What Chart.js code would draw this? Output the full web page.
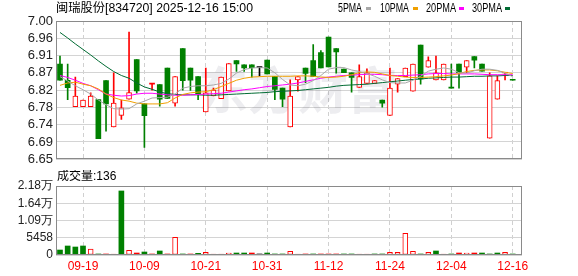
<!DOCTYPE html>
<html>
<head>
<meta charset="utf-8">
<script src="https://cdn.jsdelivr.net/npm/chart.js@4.4.1/dist/chart.umd.min.js"></script>
<style>
  html, body { margin: 0; padding: 0; background: #fff; }
  #wrap { position: relative; width: 578px; height: 276px; }
  #kline { position: absolute; left: 0; top: 0; }
  #vol { position: absolute; left: 0; top: 170px; }
</style>
</head>
<body>
<div id="wrap">
  <canvas id="kline" width="578" height="170"></canvas>
  <canvas id="vol" width="578" height="106"></canvas>
</div>
<script>
const title = '闽瑞股份[834720] 2025-12-16 15:00';
const volTitle = '成交量:136';

const dates = [
  '09-16','09-17','09-18','09-19','09-22','09-23','09-24','09-25','09-26','09-29','09-30',
  '10-09','10-10','10-13','10-14','10-15','10-16','10-17','10-20','10-21','10-22','10-23','10-24',
  '10-27','10-28','10-29','10-30','10-31',
  '11-03','11-04','11-05','11-06','11-07','11-10','11-11','11-12','11-13','11-14','11-17','11-18',
  '11-19','11-20','11-21','11-24','11-25','11-26','11-27','11-28',
  '12-01','12-02','12-03','12-04','12-05','12-08','12-09','12-10','12-11','12-12','12-15','12-16'
];
const xLabels = ['09-19','10-09','10-21','10-31','11-12','11-24','12-04','12-16'];

const openP = [
  6.891,6.850,6.783,6.783,6.783,6.801,6.849,6.732,6.761,6.802,6.902,
  6.790,6.840,6.839,6.881,6.792,6.930,6.881,6.859,6.770,6.810,6.803,6.823,
  6.900,6.889,6.889,6.882,6.901,
  6.860,6.830,6.732,6.851,6.881,6.900,6.920,6.959,6.930,6.878,6.869,6.832,
  6.842,6.842,6.800,6.761,6.840,6.859,6.822,6.939,
  6.883,6.851,6.851,6.830,6.891,6.883,6.910,6.891,6.703,6.802,6.868,6.850
];
const highP = [
  6.911,6.891,6.858,6.800,6.818,6.801,6.849,6.869,6.800,6.972,6.902,
  6.790,6.840,6.839,6.881,6.859,6.930,6.881,6.859,6.881,6.830,6.858,6.892,
  6.900,6.889,6.889,6.882,6.901,
  6.860,6.830,6.851,6.859,6.881,6.940,6.925,6.959,6.930,6.878,6.869,6.889,
  6.879,6.849,6.800,6.881,6.854,6.881,6.891,6.939,
  6.909,6.911,6.891,6.891,6.891,6.900,6.910,6.891,6.869,6.861,6.869,6.850
];
const lowP = [
  6.850,6.801,6.783,6.783,6.783,6.702,6.721,6.732,6.751,6.802,6.817,
  6.680,6.825,6.784,6.804,6.784,6.825,6.824,6.801,6.770,6.810,6.803,6.823,
  6.872,6.872,6.858,6.861,6.866,
  6.801,6.783,6.732,6.822,6.844,6.859,6.881,6.884,6.868,6.869,6.820,6.832,
  6.842,6.842,6.782,6.761,6.820,6.859,6.822,6.840,
  6.883,6.851,6.851,6.830,6.830,6.869,6.881,6.873,6.703,6.802,6.851,6.850
];
const closeP = [
  6.850,6.831,6.810,6.800,6.810,6.702,6.790,6.792,6.780,6.819,6.823,
  6.760,6.840,6.802,6.804,6.859,6.849,6.850,6.815,6.818,6.825,6.858,6.892,
  6.891,6.881,6.882,6.882,6.866,
  6.827,6.802,6.810,6.859,6.867,6.859,6.881,6.884,6.922,6.869,6.857,6.859,
  6.869,6.849,6.792,6.830,6.854,6.881,6.891,6.853,
  6.900,6.869,6.891,6.830,6.869,6.900,6.901,6.873,6.861,6.849,6.869,6.850
];

const ma5 = [
  6.859,6.848,6.836,6.826,6.815,6.800,6.788,6.778,6.777,6.778,6.790,
  6.797,6.805,6.806,6.807,6.815,6.830,6.834,6.836,6.836,6.838,6.842,6.853,
  6.868,6.877,6.881,6.882,6.881,
  6.869,6.852,6.838,6.836,6.840,6.849,6.862,6.878,6.882,6.882,6.876,6.872,
  6.867,6.860,6.851,6.844,6.843,6.843,6.850,6.860,
  6.873,6.878,6.881,6.878,6.869,6.868,6.874,6.878,6.878,6.875,6.868,6.859
];
const ma10 = [
  6.837,6.843,6.845,6.840,6.836,6.828,6.815,6.806,6.800,6.797,6.792,
  6.790,6.790,6.790,6.793,6.805,6.814,6.818,6.820,6.821,6.826,6.834,6.842,
  6.850,6.855,6.858,6.859,6.860,
  6.860,6.860,6.860,6.861,6.861,6.860,6.858,6.857,6.858,6.860,6.864,6.869,
  6.871,6.870,6.866,6.862,6.860,6.858,6.857,6.857,
  6.858,6.859,6.861,6.863,6.867,6.872,6.875,6.876,6.876,6.874,6.870,6.867
];
const ma20 = [
  6.862,6.857,6.850,6.842,6.836,6.826,6.815,6.812,6.810,6.811,6.815,
  6.817,6.817,6.815,6.813,6.812,6.812,6.813,6.814,6.815,6.816,6.817,6.820,
  6.823,6.826,6.828,6.831,6.834,
  6.836,6.838,6.840,6.843,6.847,6.851,6.855,6.858,6.860,6.862,6.863,6.864,
  6.865,6.865,6.864,6.862,6.862,6.862,6.863,6.864,
  6.866,6.867,6.867,6.866,6.866,6.866,6.866,6.865,6.864,6.864,6.864,6.864
];
const ma30 = [
  6.971,6.957,6.942,6.928,6.914,6.899,6.885,6.872,6.862,6.855,6.843,
  6.833,6.827,6.820,6.816,6.814,6.813,6.813,6.813,6.812,6.812,6.813,6.814,
  6.815,6.816,6.817,6.818,6.819,
  6.821,6.822,6.823,6.824,6.826,6.828,6.830,6.832,6.835,6.837,6.838,6.839,
  6.840,6.842,6.844,6.846,6.848,6.850,6.852,6.853,
  6.855,6.856,6.857,6.858,6.858,6.859,6.860,6.860,6.861,6.861,6.862,6.862
];

const volume = [
  1580,2850,2530,2850,1900,320,210,210,20260,1480,630,
  950,320,1270,320,5590,320,320,530,840,320,320,630,
  630,630,630,320,630,
  320,320,1160,210,210,320,210,210,210,320,320,210,
  210,320,320,840,840,6860,1160,320,
  840,1270,210,320,630,630,630,630,320,630,840,136
];

const priceTickLabels = ['6.65','6.69','6.74','6.78','6.82','6.87','6.91','6.96','7.00'];
const priceMin = 6.65, priceMax = 7.00;
const volTickLabels = ['0','5458','1.09万','1.64万','2.18万'];
const volMax = 21832;

const RED = '#ff0000', GREEN = '#008000', BLACK = '#000000';
const xMin = -0.52, xMax = 60.21;
const labelIdx = xLabels.map(d => dates.indexOf(d));
const idx = dates.map((d, i) => i);

function candleColor(i) {
  if (closeP[i] > openP[i]) return RED;
  if (closeP[i] < openP[i]) return GREEN;
  const prev = i ? closeP[i - 1] : openP[i];
  return closeP[i] > prev ? RED : (closeP[i] < prev ? GREEN : BLACK);
}
function volColor(i) {
  if (i === 0) return candleColor(0);
  return closeP[i] > closeP[i - 1] ? RED : (closeP[i] < closeP[i - 1] ? GREEN : BLACK);
}

function fitText(ctx, str, x, y, w) {
  const m = ctx.measureText(str).width;
  ctx.save();
  ctx.translate(x, y);
  ctx.scale(w / m, 1);
  ctx.fillText(str, 0, 0);
  ctx.restore();
}

function xScale(showLabels) {
  return {
    type: 'linear', min: xMin, max: xMax, offset: false,
    afterBuildTicks: s => { s.ticks = labelIdx.map(v => ({ value: v })); },
    afterFit: s => { s.height = showLabels ? 21 : 0; },
    ticks: {
      display: showLabels, autoSkip: false, maxRotation: 0, padding: 4,
      color: RED, font: { family: 'Liberation Sans', size: 12 },
      callback: v => dates[v]
    },
    grid: { color: '#d0d0d0', drawTicks: false, offset: false },
    border: { display: false, dash: [4, 3] }
  };
}

function yScale(min, max, labels, size) {
  return {
    min: min, max: max,
    afterBuildTicks: s => {
      s.ticks = labels.map((t, k) => ({ value: min + k * (max - min) / (labels.length - 1) }));
    },
    afterFit: s => { s.width = 56; },
    ticks: {
      autoSkip: false, padding: 3, color: '#222',
      font: { family: 'Liberation Sans', size: size },
      callback: (v, k) => labels[k]
    },
    grid: { color: '#d4d4d4', drawTicks: false },
    border: { display: false }
  };
}

const framePlugin = {
  id: 'frame',
  afterDraw(chart) {
    const a = chart.chartArea, ctx = chart.ctx;
    ctx.save();
    ctx.strokeStyle = '#8a8a8a';
    ctx.lineWidth = 1;
    ctx.strokeRect(Math.round(a.left) + 0.5, Math.round(a.top) + 0.5,
      Math.round(a.right - a.left) - 1, Math.round(a.bottom - a.top) - 1);
    ctx.restore();
  }
};

const klineText = {
  id: 'klineText',
  beforeDatasetsDraw(chart) {
    const ctx = chart.ctx;
    ctx.save();
    ctx.fillStyle = 'rgba(20,20,60,0.08)';
    ctx.font = 'bold 50px "Noto Sans CJK SC"';
    ctx.textAlign = 'center';
    ctx.textBaseline = 'middle';
    ctx.fillText('东方财富', 298, 90);
    ctx.restore();
  },
  afterDraw(chart) {
    const ctx = chart.ctx;
    ctx.save();
    ctx.fillStyle = '#000';
    ctx.textBaseline = 'middle';
    ctx.font = '12px "Liberation Sans", "Noto Sans CJK SC"';
    fitText(ctx, title, 56, 9, 197);
    const legend = [
      ['5PMA', 338, 24, '#a8a8a8', 366],
      ['10PMA', 380, 29, '#f0a000', 413],
      ['20PMA', 426, 30, '#ff00ff', 459],
      ['30PMA', 472, 30, '#006b33', 505]
    ];
    legend.forEach(l => {
      ctx.fillStyle = '#000';
      fitText(ctx, l[0], l[1], 9, l[2]);
      ctx.fillStyle = l[3];
      ctx.fillRect(l[4], 7, 5, 3);
    });
    ctx.restore();
  }
};

const volText = {
  id: 'volText',
  afterDraw(chart) {
    const ctx = chart.ctx;
    ctx.save();
    ctx.fillStyle = '#000';
    ctx.textBaseline = 'middle';
    ctx.font = '12px "Liberation Sans", "Noto Sans CJK SC"';
    ctx.fillText(volTitle, 57, 7);
    ctx.restore();
  }
};

function maLine(data, color) {
  return {
    type: 'line', data: idx.map(i => ({ x: i, y: data[i] })),
    borderColor: color, borderWidth: 1, pointRadius: 0, tension: 0, order: 0
  };
}

new Chart(document.getElementById('kline'), {
  data: {
    datasets: [
      maLine(ma5, '#a8a8a8'),
      maLine(ma10, '#f0a000'),
      maLine(ma20, '#ff00ff'),
      maLine(ma30, '#006b33'),
      {
        type: 'bar', order: 1, grouped: false,
        data: idx.map(i => ({ x: i, y: [Math.min(openP[i], closeP[i]), Math.max(openP[i], closeP[i])] })),
        barThickness: 5, minBarLength: 1, borderSkipped: false,
        backgroundColor: idx.map(i => closeP[i] > openP[i] ? '#ffffff' : candleColor(i)),
        borderColor: idx.map(i => candleColor(i)),
        borderWidth: idx.map(i => closeP[i] > openP[i] ? 1 : 0)
      },
      {
        type: 'bar', order: 2, grouped: false,
        data: idx.map(i => ({ x: i, y: [lowP[i], highP[i]] })),
        barThickness: 1, minBarLength: 1,
        backgroundColor: idx.map(i => candleColor(i))
      }
    ]
  },
  options: {
    responsive: false, animation: false, events: [],
    layout: { padding: { left: 0, right: 56, top: 21, bottom: 5 } },
    plugins: { legend: { display: false }, tooltip: { enabled: false } },
    scales: {
      x: xScale(false),
      y: yScale(priceMin, priceMax, priceTickLabels, 13)
    }
  },
  plugins: [framePlugin, klineText]
});

new Chart(document.getElementById('vol'), {
  data: {
    datasets: [{
      type: 'bar', grouped: false,
      data: idx.map(i => ({ x: i, y: volume[i] })),
      barThickness: 5, minBarLength: 1, borderSkipped: false,
      backgroundColor: idx.map(i => (volColor(i) === RED && closeP[i] > openP[i]) ? '#ffffff' : volColor(i)),
      borderColor: idx.map(i => volColor(i)),
      borderWidth: idx.map(i => (volColor(i) === RED && closeP[i] > openP[i]) ? 1 : 0)
    }]
  },
  options: {
    responsive: false, animation: false, events: [],
    layout: { padding: { left: 0, right: 56, top: 16, bottom: 0 } },
    plugins: { legend: { display: false }, tooltip: { enabled: false } },
    scales: {
      x: xScale(true),
      y: yScale(0, volMax, volTickLabels, 12)
    }
  },
  plugins: [framePlugin, volText]
});
</script>
</body>
</html>
